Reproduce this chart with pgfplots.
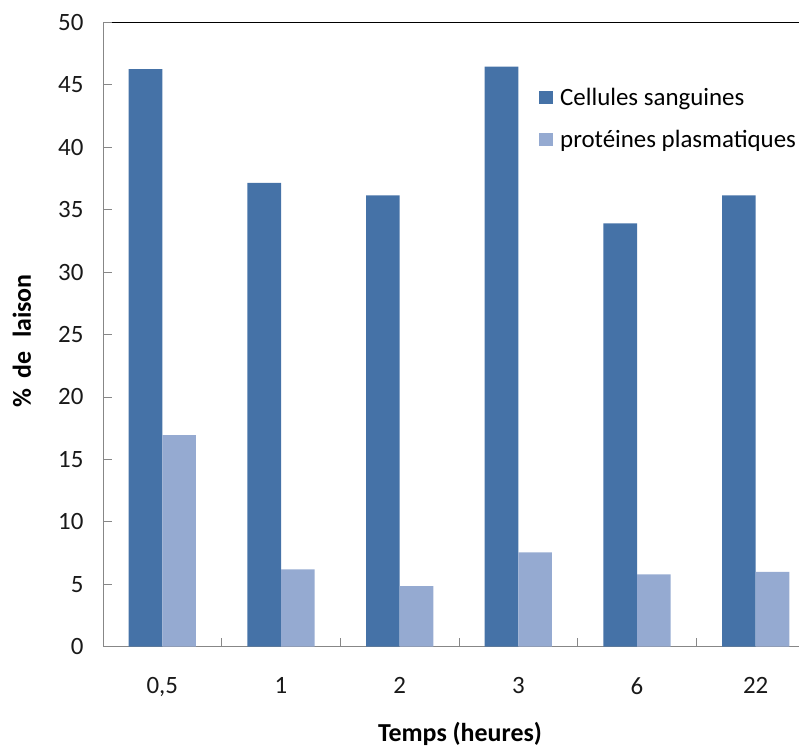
\documentclass[border=0pt]{standalone}
\usepackage{fontspec}
\setmainfont{Carlito}
\usepackage{pgfplots}
\pgfplotsset{compat=1.18}
\definecolor{darkbar}{HTML}{4572A7}
\definecolor{lightbar}{HTML}{95AAD1}
\definecolor{axgray}{HTML}{878787}
\begin{document}
\begin{tikzpicture}
\begin{axis}[
  at={(103bp,100.3bp)}, anchor=south west,
  scale only axis, width=712bp, height=624.4bp,
  xmin=-0.5, xmax=5.5, ymin=0, ymax=50,
  ybar=0pt, bar width=33.6bp,
  axis x line*=bottom, axis y line*=left,
  axis line style={axgray, line width=0.8bp, -},
  xtick={0.5,1.5,2.5,3.5,4.5}, xticklabels={},
  extra x ticks={0,1,2,3,4,5},
  extra x tick labels={{0,5},1,2,3,6,22},
  extra x tick style={major tick length=0pt},
  ytick={0,5,...,50},
  tick align=inside, major tick length=9bp,
  tick style={axgray, line width=0.8bp},
  font=\fontsize{25}{29}\selectfont,
  /pgf/number format/assume math mode=true,
  yticklabel style={xshift=-16bp, text=black!90},
  xticklabel style={yshift=-27bp, text=black!90},
  legend style={at={(rel axis cs:0.6124,0.898)}, anchor=north west, draw=none, fill=none,
    inner sep=0pt, row sep=19bp, cells={anchor=west}, font=\fontsize{25}{29}\selectfont,
    /tikz/every odd column/.append style={column sep=5bp}},
  legend image code/.code={\fill[#1] (0bp,-6.5bp) rectangle (14bp,6.5bp);},
]
\addplot[fill=darkbar, draw=none] coordinates {(0,46.25) (1,37.15) (2,36.15) (3,46.45) (4,33.9) (5,36.15)};
\addplot[fill=lightbar, draw=none] coordinates {(0,16.95) (1,6.2) (2,4.85) (3,7.55) (4,5.8) (5,6.0)};
\legend{Cellules sanguines, protéines plasmatiques}
\end{axis}
\draw[black, line width=0.8bp] (111.7bp,724.7bp) -- (815bp,724.7bp);
\node[rotate=90, font=\bfseries\fontsize{26}{30}\selectfont] at (22bp,406bp) {\%\hspace{10bp}de\hspace{14bp}laison};
\node[font=\bfseries\fontsize{26}{30}\selectfont] at (460bp,13bp) {Temps (heures)};
\pgfresetboundingbox
\path[use as bounding box] (0,0) rectangle (799bp,747bp);
\end{tikzpicture}
\end{document}
